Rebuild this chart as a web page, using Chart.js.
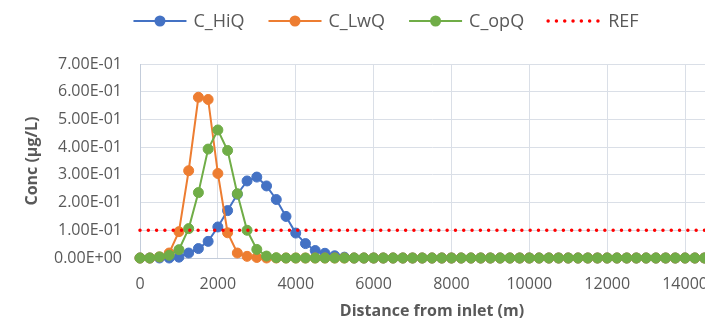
<!DOCTYPE html>
<html>
<head>
<meta charset="utf-8">
<script src="https://cdn.jsdelivr.net/npm/chart.js@4.4.0/dist/chart.umd.min.js"></script>
<style>
  html, body { margin: 0; padding: 0; background: #fff; overflow: hidden; }
  #wrap { width: 772px; height: 321px; }
</style>
</head>
<body>
<div id="wrap"><canvas id="concChart" width="772" height="321"></canvas></div>
<script>
// distância a partir da entrada (m)
const distancias = [
  0, 250, 500, 750, 1000, 1250, 1500, 1750, 2000, 2250,
  2500, 2750, 3000, 3250, 3500, 3750, 4000, 4250, 4500, 4750,
  5000, 5250, 5500, 5750, 6000, 6250, 6500, 6750, 7000, 7250,
  7500, 7750, 8000, 8250, 8500, 8750, 9000, 9250, 9500, 9750,
  10000, 10250, 10500, 10750, 11000, 11250, 11500, 11750, 12000, 12250,
  12500, 12750, 13000, 13250, 13500, 13750, 14000, 14250, 14500, 14750,
  15000
];

const cHiQ = [
  0, 0, 0, 0, 0.003, 0.018, 0.034, 0.06, 0.112, 0.171,
  0.23, 0.278, 0.292, 0.26, 0.211, 0.15, 0.09, 0.052, 0.027, 0.017,
  0.008, 0.003, 0, 0, 0, 0, 0, 0, 0, 0,
  0, 0, 0, 0, 0, 0, 0, 0, 0, 0,
  0, 0, 0, 0, 0, 0, 0, 0, 0, 0,
  0, 0, 0, 0, 0, 0, 0, 0, 0, 0,
  0
];

const cLwQ = [
  0, 0, 0.004, 0.018, 0.095, 0.315, 0.58, 0.572, 0.305, 0.091,
  0.018, 0.006, 0.002, 0, 0, 0, 0, 0, 0, 0,
  0, 0, 0, 0, 0, 0, 0, 0, 0, 0,
  0, 0, 0, 0, 0, 0, 0, 0, 0, 0,
  0, 0, 0, 0, 0, 0, 0, 0, 0, 0,
  0, 0, 0, 0, 0, 0, 0, 0, 0, 0,
  0
];

const cOpQ = [
  0, 0, 0.004, 0.01, 0.03, 0.106, 0.236, 0.393, 0.462, 0.388,
  0.232, 0.1, 0.031, 0.007, 0.001, 0, 0, 0, 0, 0,
  0, 0, 0, 0, 0, 0, 0, 0, 0, 0,
  0, 0, 0, 0, 0, 0, 0, 0, 0, 0,
  0, 0, 0, 0, 0, 0, 0, 0, 0, 0,
  0, 0, 0, 0, 0, 0, 0, 0, 0, 0,
  0
];

// linha de referência
const refDist = [0, 15000];
const refConc = [0.1, 0.1];

// marcas dos eixos
const xTicks = [0, 2000, 4000, 6000, 8000, 10000, 12000, 14000];
const yTicks = [0, 0.1, 0.2, 0.3, 0.4, 0.5, 0.6, 0.7];

const corTexto = "#595959";
Chart.defaults.font.family = "'Open Sans', sans-serif";
Chart.defaults.color = corTexto;

function pontos(xs, ys) {
  return xs.map((x, i) => ({ x: x, y: ys[i] }));
}

function formatarExp(v) {
  const [m, e] = Number(v).toExponential(2).split("e");
  const n = parseInt(e, 10);
  return m + "E" + (n < 0 ? "-" : "+") + String(Math.abs(n)).padStart(2, "0");
}

function serie(label, ys, cor, ordem) {
  return {
    label: label,
    data: pontos(distancias, ys),
    borderColor: cor,
    backgroundColor: cor,
    borderWidth: 2,
    pointRadius: 5,
    pointBackgroundColor: cor,
    pointBorderColor: cor,
    pointBorderWidth: 1,
    tension: 0,
    clip: false,
    order: ordem,
  };
}

// legenda com linha + marcador, como no Excel
const legendaLinha = {
  id: "legendaLinha",
  afterDraw(chart) {
    const ctx = chart.ctx;
    const y = 21;
    const amostra = 53;
    ctx.save();
    ctx.font = "18px 'Open Sans'";
    const itens = chart.data.datasets.map((ds) => ({ ds: ds, w: ctx.measureText(ds.label).width }));
    const total = itens.reduce((s, it) => s + amostra + 7 + it.w, 0) + 24 * (itens.length - 1);
    let x = chart.width / 2 - total / 2;
    itens.forEach(({ ds, w }) => {
      ctx.strokeStyle = ds.borderColor;
      ctx.lineWidth = ds.borderWidth;
      ctx.lineCap = ds.borderCapStyle || "butt";
      ctx.setLineDash(ds.borderDash || []);
      ctx.beginPath();
      ctx.moveTo(x, y);
      ctx.lineTo(x + amostra, y);
      ctx.stroke();
      ctx.setLineDash([]);
      if (ds.pointRadius > 0) {
        ctx.fillStyle = ds.pointBackgroundColor;
        ctx.beginPath();
        ctx.arc(x + amostra / 2, y, 5.5, 0, Math.PI * 2);
        ctx.fill();
      }
      ctx.fillStyle = corTexto;
      ctx.textBaseline = "middle";
      ctx.textAlign = "left";
      ctx.fillText(ds.label, x + amostra + 7, y + 1);
      x += amostra + 7 + w + 24;
    });
    ctx.restore();
  },
};

new Chart(document.getElementById("concChart"), {
  type: "line",
  data: {
    datasets: [
      serie("C_HiQ", cHiQ, "#4472C4", 4),
      serie("C_LwQ", cLwQ, "#ED7D31", 3),
      serie("C_opQ", cOpQ, "#70AD47", 2),
      {
        label: "REF",
        data: pontos(refDist, refConc),
        borderColor: "#FF0000",
        borderWidth: 3.5,
        borderDash: [0.001, 8.3],
        borderCapStyle: "round",
        pointRadius: 0,
        clip: false,
        order: 1,
      },
    ],
  },
  options: {
    responsive: false,
    animation: false,
    layout: { padding: { top: 64, right: 48, bottom: 0, left: 0 } },
    plugins: { legend: { display: false }, tooltip: { enabled: false } },
    scales: {
      x: {
        type: "linear",
        min: 0,
        max: 15000,
        afterFit: (s) => { s.height = 63; },
        afterBuildTicks: (s) => { s.ticks = xTicks.map((v) => ({ value: v })); },
        grid: { color: "#dadfe7", drawTicks: false },
        border: { color: "#c3ccda" },
        ticks: { padding: 17, font: { size: 16 }, color: corTexto, callback: (v) => String(v) },
        title: {
          display: true,
          text: "Distance from inlet (m)",
          font: { size: 16, weight: "bold" },
          color: corTexto,
          padding: { top: 4, bottom: 0 },
        },
      },
      y: {
        min: 0,
        max: 0.7,
        afterFit: (s) => { s.width = 140; },
        afterBuildTicks: (s) => { s.ticks = yTicks.map((v) => ({ value: v })); },
        grid: { color: "#dadfe7", drawTicks: false },
        border: { color: "#c3ccda" },
        ticks: { padding: 18, font: { size: 16 }, color: corTexto, callback: formatarExp },
        title: {
          display: true,
          text: "Conc (µg/L)",
          font: { size: 16, weight: "bold" },
          color: corTexto,
          padding: { top: 23, bottom: 0 },
        },
      },
    },
  },
  plugins: [legendaLinha],
});
</script>
</body>
</html>
